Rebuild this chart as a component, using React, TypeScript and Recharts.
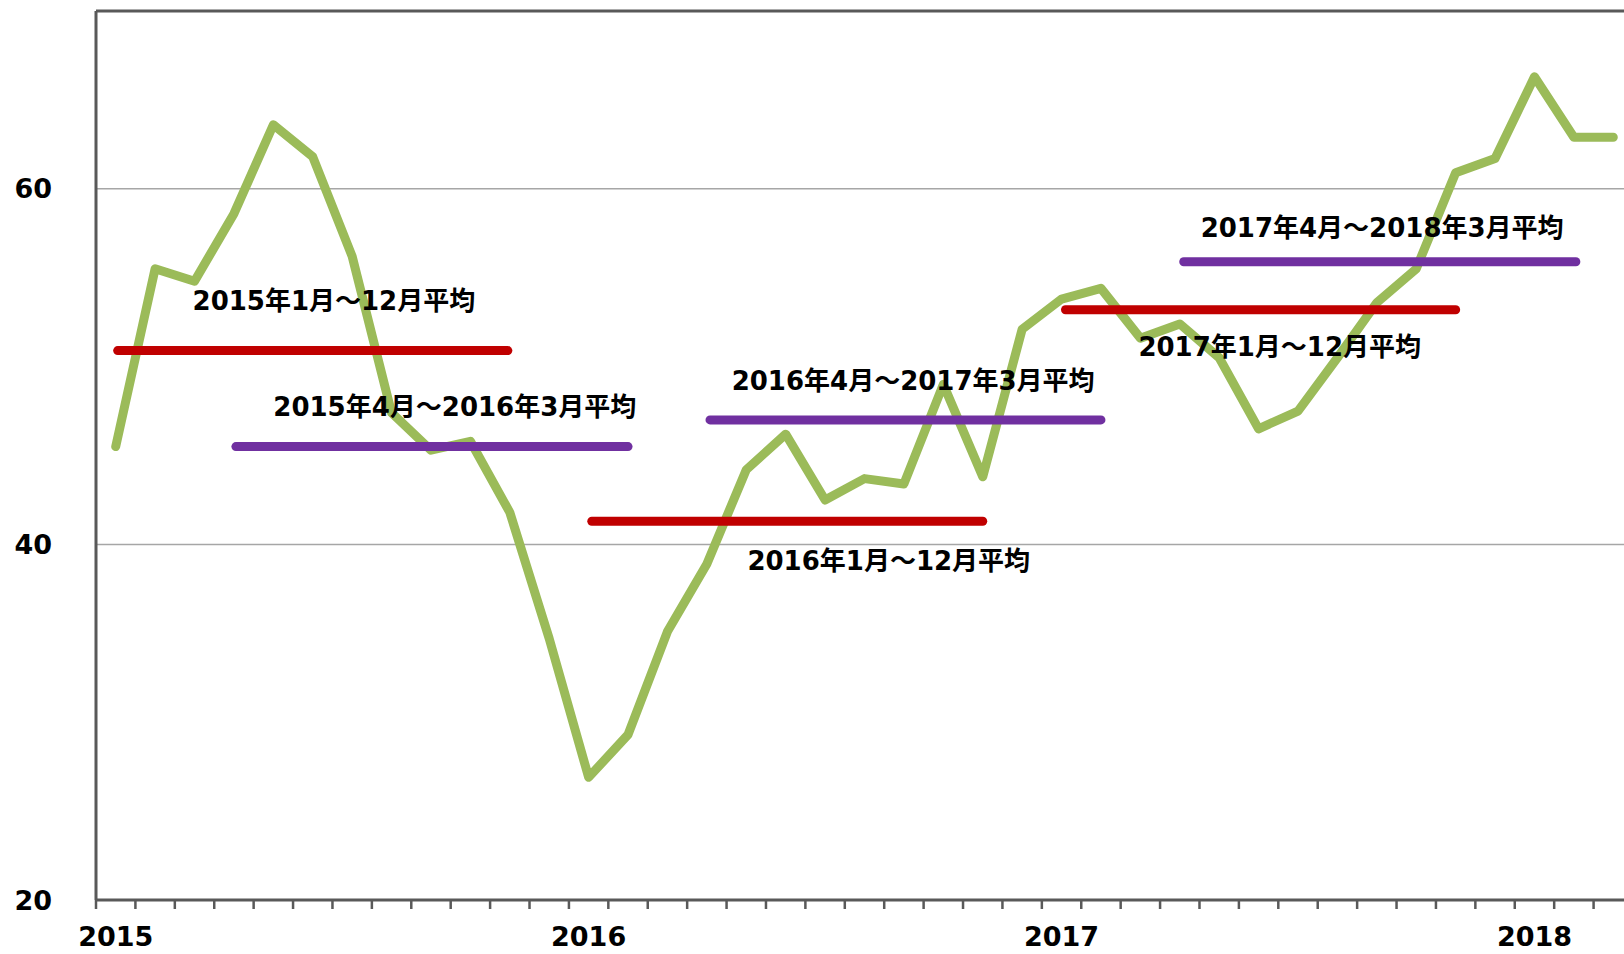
import { LineChart, Line, XAxis, YAxis, CartesianGrid, ReferenceLine, ReferenceDot } from 'recharts';

const FONT = "'DejaVu Sans', 'Noto Sans CJK JP', sans-serif";

const months = [
  '2015-01', '2015-02', '2015-03', '2015-04', '2015-05', '2015-06', '2015-07', '2015-08', '2015-09', '2015-10', '2015-11', '2015-12',
  '2016-01', '2016-02', '2016-03', '2016-04', '2016-05', '2016-06', '2016-07', '2016-08', '2016-09', '2016-10', '2016-11', '2016-12',
  '2017-01', '2017-02', '2017-03', '2017-04', '2017-05', '2017-06', '2017-07', '2017-08', '2017-09', '2017-10', '2017-11', '2017-12',
  '2018-01', '2018-02', '2018-03',
];

const values = [
  45.5, 55.5, 54.8, 58.6, 63.6, 61.8, 56.2, 47.4, 45.3, 45.8, 41.8, 34.7,
  26.9, 29.3, 35.1, 38.9, 44.2, 46.2, 42.5, 43.7, 43.4, 49.0, 43.8, 52.1,
  53.8, 54.4, 51.6, 52.4, 50.5, 46.5, 47.5, 50.5, 53.6, 55.5, 60.9, 61.7,
  66.3, 62.9, 62.9,
];

const yearTicks = [0, 12, 24, 36];
const yearLabels = ['2015', '2016', '2017', '2018'];
const yTicks = [20, 40, 60];

// average bars (hand drawn in the original), x in month index
const avgNames = [
  '2015年1月～12月平均',
  '2015年4月～2016年3月平均',
  '2016年1月～12月平均',
  '2016年4月～2017年3月平均',
  '2017年1月～12月平均',
  '2017年4月～2018年3月平均',
];
const avgValues = [50.9, 45.5, 41.3, 47.0, 53.2, 55.9];
const avgFrom = [0.05, 3.05, 12.08, 15.08, 24.1, 27.1];
const avgTo = [9.95, 13.0, 22.0, 25.0, 34.0, 37.05];
const avgIsFiscal = [false, true, false, true, false, true];

// where each caption starts (month index, value)
const noteX = [1.95, 4.0, 16.03, 15.63, 25.95, 27.53];
const noteY = [53.67, 47.71, 39.09, 49.18, 51.11, 57.8];

const data = values.map((v, i) => ({ x: i, month: months[i], v }));
const monthEdges = Array.from({ length: months.length + 1 }, (_, i) => i - 0.5);

export default function App() {
  return (
    <div style={{ position: 'fixed', left: 0, top: 0, width: 1624, height: 954, overflow: 'hidden', background: '#fff' }}>
      <LineChart width={1640} height={954} data={data} margin={{ top: 11, right: 7, left: 0, bottom: 0 }}>
        <CartesianGrid vertical={false} stroke="#a6a6a6" strokeWidth={1.5} />
        <XAxis
          dataKey="x"
          type="number"
          domain={[-0.5, months.length - 0.5]}
          ticks={monthEdges}
          tickFormatter={() => ''}
          tick={{ fontSize: 1 }}
          tickSize={9}
          height={10}
          interval={0}
          axisLine={{ stroke: '#595959', strokeWidth: 3 }}
          tickLine={{ stroke: '#595959', strokeWidth: 2.5 }}
          allowDataOverflow
        />
        <XAxis
          xAxisId="years"
          dataKey="x"
          type="number"
          domain={[-0.5, months.length - 0.5]}
          ticks={yearTicks}
          tickFormatter={(v: number) => yearLabels[yearTicks.indexOf(v)]}
          axisLine={false}
          tickLine={false}
          tickSize={0}
          tickMargin={17}
          height={44}
          interval={0}
          tick={{ fill: '#000', fontSize: 27, fontWeight: 'bold', fontFamily: FONT }}
        />
        <YAxis
          domain={[20, 70]}
          ticks={yTicks}
          width={96}
          tickLine={false}
          tickSize={6}
          tickMargin={38}
          axisLine={{ stroke: '#595959', strokeWidth: 3 }}
          tick={{ fill: '#000', fontSize: 27, fontWeight: 'bold', fontFamily: FONT }}
          allowDataOverflow
        />
        <ReferenceLine y={70} stroke="#595959" strokeWidth={3} />
        <Line
          dataKey="v"
          stroke="#9bbb59"
          strokeWidth={9}
          strokeLinejoin="round"
          strokeLinecap="round"
          dot={false}
          activeDot={false}
          isAnimationActive={false}
        />
        {avgValues.map((v, i) => (
          <ReferenceLine
            key={avgNames[i]}
            segment={[{ x: avgFrom[i], y: v }, { x: avgTo[i], y: v }]}
            stroke={avgIsFiscal[i] ? '#7030a0' : '#c00000'}
            strokeWidth={9}
            strokeLinecap="round"
          />
        ))}
        {avgNames.map((name, i) => (
          <ReferenceDot
            key={'note' + i}
            x={noteX[i]}
            y={noteY[i]}
            r={1}
            shape={(p: any) => (
              <text
                x={p.cx}
                y={p.cy}
                dominantBaseline="central"
                fontSize={26}
                fontWeight="bold"
                fontFamily={FONT}
                fill="#000"
              >
                {name}
              </text>
            )}
          />
        ))}
      </LineChart>
    </div>
  );
}
